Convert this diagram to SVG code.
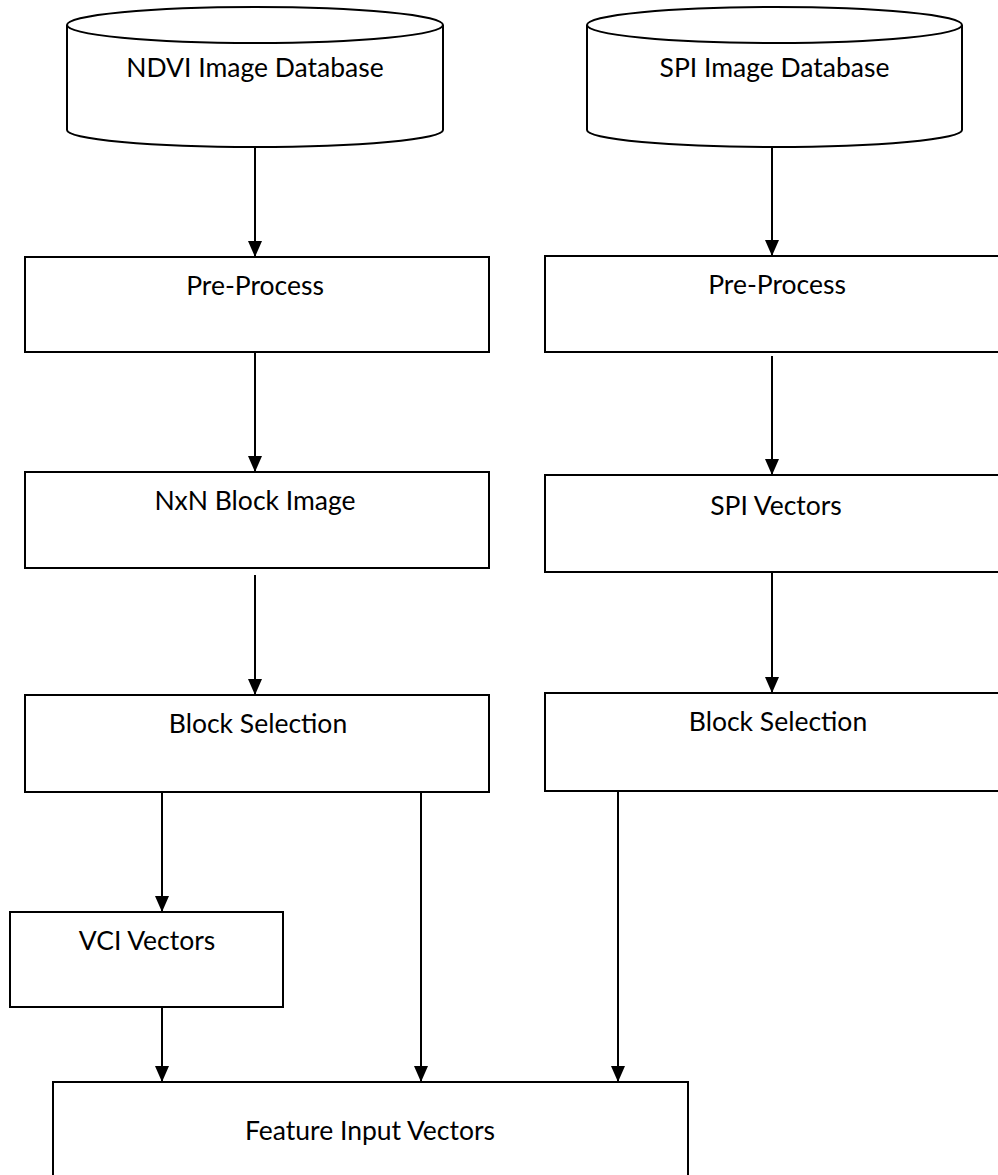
<svg xmlns="http://www.w3.org/2000/svg" width="998" height="1175" viewBox="0 0 998 1175">
<style>
.s{fill:#fff;stroke:#000;stroke-width:2}
.t{font-family:Lato,"Open Sans","Liberation Sans",sans-serif;font-size:26.5px;fill:#000;text-anchor:middle}
.c{stroke:#000;stroke-width:2;fill:none;marker-end:url(#ah)}
</style>
<defs>
<marker id="ah" viewBox="0 0 16 14" refX="16" refY="7" markerWidth="16" markerHeight="14" markerUnits="userSpaceOnUse" orient="auto">
<path d="M0,0 L16,7 L0,14 Z" fill="#000"/>
</marker>
</defs>
<rect width="998" height="1175" fill="#fff"/>
<g id="ndvi-db">
<path class="s" d="M67,25 L67,130 A188,17 0 0 0 443,130 L443,25"/>
<ellipse class="s" cx="255" cy="25" rx="188" ry="18"/>
<text class="t" x="255" y="77">NDVI Image Database</text>
</g>
<g id="spi-db">
<path class="s" d="M587,25 L587,130 A187.5,17 0 0 0 962,130 L962,25"/>
<ellipse class="s" cx="774.5" cy="25" rx="187.5" ry="18"/>
<text class="t" x="774.5" y="77">SPI Image Database</text>
</g>
<g id="preprocess-left"><rect class="s" x="25" y="257" width="464" height="95"/><text class="t" x="255" y="295">Pre-Process</text></g>
<g id="nxn-block"><rect class="s" x="25" y="472" width="464" height="96"/><text class="t" x="255" y="510">NxN Block Image</text></g>
<g id="block-sel-left"><rect class="s" x="25" y="695" width="464" height="97"/><text class="t" x="258" y="733">Block Selection</text></g>
<g id="vci"><rect class="s" x="10" y="912" width="273" height="95"/><text class="t" x="147" y="950">VCI Vectors</text></g>
<g id="preprocess-right"><rect class="s" x="545" y="256" width="460" height="96"/><text class="t" x="777" y="294">Pre-Process</text></g>
<g id="spi-vectors"><rect class="s" x="545" y="475" width="460" height="97"/><text class="t" x="776" y="515">SPI Vectors</text></g>
<g id="block-sel-right"><rect class="s" x="545" y="693" width="460" height="98"/><text class="t" x="778" y="731">Block Selection</text></g>
<g id="feature"><rect class="s" x="53" y="1082" width="635" height="110"/><text class="t" x="370" y="1140">Feature Input Vectors</text></g>
<g id="connectors">
<path class="c" d="M255,147 V257"/>
<path class="c" d="M255,352 V472"/>
<path class="c" d="M255,575 V695"/>
<path class="c" d="M162,792 V912"/>
<path class="c" d="M162,1007 V1082"/>
<path class="c" d="M421,792 V1082"/>
<path class="c" d="M772,147 V256"/>
<path class="c" d="M772,356 V475"/>
<path class="c" d="M772,572 V693"/>
<path class="c" d="M618,791 V1082"/>
</g>
</svg>
